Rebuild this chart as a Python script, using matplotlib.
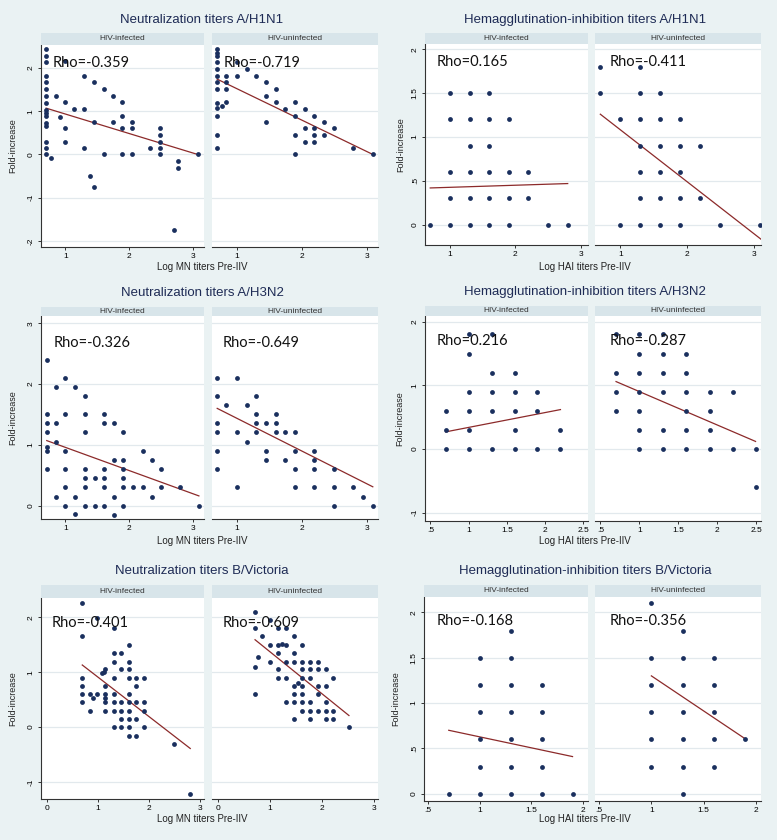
import numpy as np
import matplotlib.pyplot as plt
from matplotlib.patches import Rectangle

# === Data (x = log titer pre-IIV, y = fold-increase) ===
mn_h1n1_inf = [(0.70, 2.43), (0.70, 2.27), (0.70, 2.13), (0.70, 1.81), (0.70, 1.67), (0.70, 1.51),
               (0.70, 1.34), (0.70, 1.19), (0.70, 1.03), (0.70, 0.95), (0.70, 0.88), (0.70, 0.72),
               (0.70, 0.66), (0.70, 0.29), (0.70, 0.14), (0.70, 0.00), (0.78, -0.09), (0.85, 1.36),
               (0.91, 0.86), (1.00, 2.15), (1.00, 1.21), (1.00, 0.60), (1.00, 0.29), (1.14, 1.05),
               (1.30, 1.82), (1.30, 1.05), (1.30, 0.14), (1.39, -0.50), (1.45, 1.67), (1.45, 0.76),
               (1.45, -0.75), (1.60, 1.51), (1.60, 0.00), (1.74, 1.36), (1.74, 0.76), (1.89, 1.21),
               (1.89, 0.90), (1.89, 0.60), (1.89, 0.00), (2.04, 0.76), (2.04, 0.60), (2.04, 0.00),
               (2.33, 0.14), (2.48, 0.60), (2.48, 0.45), (2.48, 0.29), (2.48, 0.14), (2.48, 0.00),
               (2.77, -0.16), (2.77, -0.31), (2.70, -1.74), (3.07, 0.00)]
mn_h1n1_uninf = [(0.70, 2.44), (0.70, 2.35), (0.70, 2.27), (0.70, 2.13), (0.70, 1.98), (0.70, 1.82),
                 (0.70, 1.67), (0.70, 1.51), (0.70, 1.20), (0.70, 1.07), (0.70, 0.90), (0.70, 0.45),
                 (0.70, 0.14), (0.78, 1.12), (0.84, 1.82), (0.84, 1.67), (0.84, 1.51), (0.84, 1.21),
                 (1.00, 1.82), (1.00, 2.13), (1.15, 1.98), (1.30, 1.82), (1.45, 1.67), (1.45, 1.36),
                 (1.45, 0.76), (1.60, 1.51), (1.60, 1.21), (1.74, 1.05), (1.89, 1.21), (1.89, 0.90),
                 (1.89, 0.45), (1.89, 0.00), (2.05, 1.05), (2.05, 0.60), (2.05, 0.29), (2.19, 0.90),
                 (2.19, 0.60), (2.19, 0.45), (2.19, 0.29), (2.34, 0.76), (2.34, 0.45), (2.49, 0.60),
                 (2.79, 0.14), (3.09, 0.00)]

hai_h1n1_inf = [(0.7, 0.0), (1.0, 1.5), (1.3, 1.5), (1.6, 1.5), (1.0, 1.2), (1.3, 1.2), (1.6, 1.2),
                (1.9, 1.2), (1.3, 0.9), (1.6, 0.9), (1.0, 0.6), (1.3, 0.6), (1.6, 0.6), (1.9, 0.6),
                (2.2, 0.6), (1.0, 0.3), (1.3, 0.3), (1.6, 0.3), (1.9, 0.3), (2.2, 0.3), (1.0, 0.0),
                (1.3, 0.0), (1.6, 0.0), (1.9, 0.0), (2.5, 0.0), (2.8, 0.0)]
hai_h1n1_uninf = [(0.7, 1.8), (0.7, 1.5), (1.3, 1.8), (1.3, 1.5), (1.6, 1.5), (1.0, 1.2), (1.3, 1.2),
                  (1.6, 1.2), (1.9, 1.2), (1.3, 0.9), (1.6, 0.9), (1.9, 0.9), (2.2, 0.9), (1.3, 0.6),
                  (1.6, 0.6), (1.9, 0.6), (1.3, 0.3), (1.6, 0.3), (1.9, 0.3), (2.2, 0.3), (1.0, 0.0),
                  (1.3, 0.0), (1.6, 0.0), (1.9, 0.0), (2.5, 0.0), (3.1, 0.0)]

mn_h3n2_inf = [(0.71, 2.40), (0.71, 1.51), (0.71, 1.36), (0.71, 1.21), (0.71, 0.97), (0.71, 0.90),
               (0.71, 0.60), (0.86, 1.96), (0.86, 1.36), (0.86, 1.05), (0.86, 0.15), (1.00, 2.10),
               (1.00, 1.51), (1.00, 0.90), (1.00, 0.60), (1.00, 0.30), (1.00, 0.00), (1.15, 1.96),
               (1.15, 0.15), (1.15, -0.14), (1.31, 1.81), (1.31, 1.51), (1.31, 1.21), (1.31, 0.60),
               (1.31, 0.45), (1.31, 0.30), (1.31, 0.00), (1.46, 0.45), (1.46, 0.00), (1.61, 1.51),
               (1.61, 1.36), (1.61, 0.60), (1.61, 0.45), (1.61, 0.30), (1.61, 0.00), (1.76, 1.36),
               (1.76, 0.75), (1.76, 0.15), (1.76, -0.15), (1.90, 1.21), (1.90, 0.75), (1.90, 0.60),
               (1.90, 0.45), (1.90, 0.30), (1.90, 0.00), (2.06, 0.30), (2.21, 0.30), (2.21, 0.90),
               (2.35, 0.75), (2.35, 0.15), (2.50, 0.60), (2.50, 0.30), (2.80, 0.30), (3.09, 0.00)]
mn_h3n2_uninf = [(0.70, 2.10), (0.70, 1.81), (0.70, 1.36), (0.70, 1.21), (0.70, 0.90), (0.70, 0.60),
                 (0.84, 1.66), (1.00, 2.10), (1.00, 1.21), (1.00, 0.30), (1.15, 1.66), (1.15, 1.05),
                 (1.30, 1.81), (1.30, 1.51), (1.30, 1.36), (1.30, 1.21), (1.45, 1.36), (1.45, 0.90),
                 (1.45, 0.75), (1.60, 1.51), (1.60, 1.36), (1.60, 1.21), (1.74, 1.21), (1.74, 0.75),
                 (1.89, 1.21), (1.89, 0.90), (1.89, 0.60), (1.89, 0.30), (2.19, 0.90), (2.19, 0.75),
                 (2.19, 0.60), (2.19, 0.30), (2.49, 0.60), (2.49, 0.30), (2.49, 0.00), (2.79, 0.30),
                 (2.94, 0.15), (3.09, 0.00)]

hai_h3n2_inf = [(0.7, 0.6), (0.7, 0.3), (0.7, 0.0), (1.0, 1.8), (1.0, 1.5), (1.0, 0.9), (1.0, 0.6),
                (1.0, 0.3), (1.0, 0.0), (1.3, 1.8), (1.3, 1.2), (1.3, 0.9), (1.3, 0.6), (1.3, 0.0),
                (1.6, 1.2), (1.6, 0.9), (1.6, 0.6), (1.6, 0.3), (1.6, 0.0), (1.9, 0.9), (1.9, 0.6),
                (1.9, 0.0), (2.2, 0.3), (2.2, 0.0)]
hai_h3n2_uninf = [(0.7, 1.8), (0.7, 1.2), (0.7, 0.9), (0.7, 0.6), (1.0, 1.8), (1.0, 1.5), (1.0, 1.2),
                  (1.0, 0.9), (1.0, 0.6), (1.0, 0.3), (1.0, 0.0), (1.3, 1.8), (1.3, 1.5), (1.3, 1.2),
                  (1.3, 0.9), (1.3, 0.3), (1.3, 0.0), (1.6, 1.5), (1.6, 1.2), (1.6, 0.9), (1.6, 0.6),
                  (1.6, 0.3), (1.6, 0.0), (1.9, 0.9), (1.9, 0.6), (1.9, 0.3), (1.9, 0.0), (2.2, 0.9),
                  (2.2, 0.0), (2.5, 0.0), (2.5, -0.6)]

mn_bvic_inf = [(0.69, 2.25), (0.69, 1.65), (0.69, 0.90), (0.69, 0.75), (0.69, 0.60), (0.69, 0.45),
               (0.84, 0.60), (0.84, 0.30), (0.90, 0.53), (0.98, 0.60), (0.98, 1.98), (1.08, 0.98),
               (1.11, 1.01), (1.14, 1.05), (1.14, 0.75), (1.14, 0.60), (1.14, 0.53), (1.14, 0.45),
               (1.14, 0.30), (1.31, 1.81), (1.31, 1.35), (1.31, 1.19), (1.31, 0.89), (1.31, 0.60),
               (1.31, 0.45), (1.31, 0.30), (1.31, 0.00), (1.45, 1.35), (1.45, 1.05), (1.45, 0.45),
               (1.45, 0.30), (1.45, 0.15), (1.45, 0.00), (1.60, 1.50), (1.60, 1.19), (1.60, 1.05),
               (1.60, 0.89), (1.60, 0.60), (1.60, 0.45), (1.60, 0.30), (1.60, 0.15), (1.60, 0.00),
               (1.60, -0.16), (1.75, 0.89), (1.75, 0.75), (1.75, 0.45), (1.75, 0.15), (1.75, -0.16),
               (1.90, 0.89), (1.90, 0.45), (1.90, 0.30), (1.90, 0.00), (2.50, -0.30), (2.81, -1.21)]
mn_bvic_uninf = [(0.71, 2.10), (0.71, 1.81), (0.71, 1.10), (0.71, 0.60), (0.77, 1.27), (0.85, 1.65),
                 (1.00, 1.95), (1.00, 1.50), (1.00, 1.19), (1.16, 1.81), (1.16, 1.50), (1.16, 1.35),
                 (1.16, 1.05), (1.16, 0.89), (1.22, 1.52), (1.31, 1.81), (1.31, 1.50), (1.31, 1.19),
                 (1.31, 0.89), (1.31, 0.45), (1.46, 1.65), (1.46, 1.35), (1.46, 1.19), (1.46, 0.75),
                 (1.46, 0.60), (1.46, 0.45), (1.46, 0.15), (1.54, 0.81), (1.61, 1.50), (1.61, 1.19),
                 (1.61, 1.05), (1.61, 0.89), (1.61, 0.75), (1.61, 0.60), (1.61, 0.45), (1.61, 0.30),
                 (1.76, 1.19), (1.76, 1.05), (1.76, 0.89), (1.76, 0.45), (1.76, 0.30), (1.76, 0.15),
                 (1.92, 1.19), (1.92, 1.05), (1.92, 0.75), (1.92, 0.60), (1.92, 0.30), (2.07, 1.05),
                 (2.07, 0.75), (2.07, 0.45), (2.07, 0.30), (2.07, 0.15), (2.21, 0.89), (2.21, 0.30),
                 (2.21, 0.15), (2.52, 0.00)]

hai_bvic_inf = [(0.7, 0.0), (1.0, 1.5), (1.0, 1.2), (1.0, 0.9), (1.0, 0.6), (1.0, 0.3), (1.0, 0.0),
                (1.3, 1.8), (1.3, 1.5), (1.3, 1.2), (1.3, 0.9), (1.3, 0.6), (1.3, 0.3), (1.3, 0.0),
                (1.6, 1.2), (1.6, 0.9), (1.6, 0.6), (1.6, 0.3), (1.6, 0.0), (1.9, 0.0)]
hai_bvic_uninf = [(1.0, 2.1), (1.0, 1.5), (1.0, 1.2), (1.0, 0.9), (1.0, 0.6), (1.0, 0.3), (1.3, 1.8),
                  (1.3, 1.5), (1.3, 1.2), (1.3, 0.9), (1.3, 0.6), (1.3, 0.3), (1.3, 0.0), (1.6, 1.5),
                  (1.6, 1.2), (1.6, 0.9), (1.6, 0.6), (1.6, 0.3), (1.9, 0.6)]

# fitted lines as drawn (x0, y0, x1, y1), infected / uninfected
fit_mn_h1n1 = [(0.70, 1.07, 3.07, 0.00), (0.70, 1.74, 3.09, 0.00)]
fit_hai_h1n1 = [(0.70, 0.42, 2.80, 0.47), (0.70, 1.26, 3.12, -0.17)]
fit_mn_h3n2 = [(0.71, 1.07, 3.09, 0.16), (0.70, 1.60, 3.09, 0.31)]
fit_hai_h3n2 = [(0.70, 0.27, 2.20, 0.62), (0.70, 1.06, 2.49, 0.12)]
fit_mn_bvic = [(0.69, 1.13, 2.81, -0.39), (0.71, 1.59, 2.52, 0.21)]
fit_hai_bvic = [(0.70, 0.70, 1.90, 0.41), (1.00, 1.30, 1.90, 0.605)]

rho_mn_h1n1 = ['Rho=-0.359', 'Rho=-0.719']
rho_hai_h1n1 = ['Rho=0.165', 'Rho=-0.411']
rho_mn_h3n2 = ['Rho=-0.326', 'Rho=-0.649']
rho_hai_h3n2 = ['Rho=0.216', 'Rho=-0.287']
rho_mn_bvic = ['Rho=-0.401', 'Rho=-0.609']
rho_hai_bvic = ['Rho=-0.168', 'Rho=-0.356']

titles = ['Neutralization titers A/H1N1', 'Hemagglutination-inhibition titers A/H1N1',
          'Neutralization titers A/H3N2', 'Hemagglutination-inhibition titers A/H3N2',
          'Neutralization titers B/Victoria', 'Hemagglutination-inhibition titers B/Victoria']
groups = ['HIV-infected', 'HIV-uninfected']
xlab_mn = 'Log MN titers Pre-IIV'
xlab_hai = 'Log HAI titers Pre-IIV'
ylab = 'Fold-increase'

# === Style ===
W, H = 777, 840
BG = '#eaf2f3'
STRIP = '#d8e5ea'
NAVY = '#1a2f5e'
RED = '#8c2a2a'
GRID = '#e2e9ed'
plt.rcParams['font.family'] = ['Liberation Sans', 'DejaVu Sans']

fig = plt.figure(figsize=(W / 100, H / 100), dpi=100, facecolor=BG)


def add_ax(box):
    x0, y0, x1, y1 = box
    return fig.add_axes([x0 / W, 1 - y1 / H, (x1 - x0) / W, (y1 - y0) / H])


# panel layout in pixels: two plot boxes, strip top, title y, title x, xlabel y, ylabel x
panels = [
    dict(data=(mn_h1n1_inf, mn_h1n1_uninf), fit=fit_mn_h1n1, rho=rho_mn_h1n1, title=titles[0],
         xlab=xlab_mn, boxes=[(41, 45, 204, 247), (212, 45, 378, 247)], strip=33, ty=20, tx=202,
         xly=267, ylx=13, xlim=(0.62, 3.17), ylim=(-2.14, 2.53), xt=[1, 2, 3], xtl=['1', '2', '3'],
         yt=[-2, -1, 0, 1, 2], ytl=['-2', '-1', '0', '1', '2'], rx=(0.07, 0.07), ry=0.91),
    dict(data=(hai_h1n1_inf, hai_h1n1_uninf), fit=fit_hai_h1n1, rho=rho_hai_h1n1, title=titles[1],
         xlab=xlab_hai, boxes=[(425, 44, 588, 245), (595, 44, 761, 245)], strip=33, ty=20, tx=585,
         xly=267, ylx=401, xlim=(0.62, 3.11), ylim=(-0.23, 2.06), xt=[1, 2, 3], xtl=['1', '2', '3'],
         yt=[0, 0.5, 1, 1.5, 2], ytl=['0', '.5', '1', '1.5', '2'], rx=(0.07, 0.09), ry=0.91),
    dict(data=(mn_h3n2_inf, mn_h3n2_uninf), fit=fit_mn_h3n2, rho=rho_mn_h3n2, title=titles[2],
         xlab=xlab_mn, boxes=[(41, 316, 204, 519), (212, 316, 378, 519)], strip=307, ty=293, tx=202,
         xly=541, ylx=13, xlim=(0.62, 3.17), ylim=(-0.22, 3.12), xt=[1, 2, 3], xtl=['1', '2', '3'],
         yt=[0, 1, 2, 3], ytl=['0', '1', '2', '3'], rx=(0.075, 0.066), ry=0.865),
    dict(data=(hai_h3n2_inf, hai_h3n2_uninf), fit=fit_hai_h3n2, rho=rho_hai_h3n2, title=titles[3],
         xlab=xlab_hai, boxes=[(425, 316, 588, 521), (595, 316, 761, 521)], strip=306, ty=292, tx=585,
         xly=541, ylx=400, xlim=(0.43, 2.56), ylim=(-1.13, 2.09), xt=[0.5, 1, 1.5, 2, 2.5],
         xtl=['.5', '1', '1.5', '2', '2.5'], yt=[-1, 0, 1, 2], ytl=['-1', '0', '1', '2'],
         rx=(0.07, 0.086), ry=0.88),
    dict(data=(mn_bvic_inf, mn_bvic_uninf), fit=fit_mn_bvic, rho=rho_mn_bvic, title=titles[4],
         xlab=xlab_mn, boxes=[(41, 598, 204, 799), (212, 598, 378, 799)], strip=585, ty=571, tx=202,
         xly=819, ylx=13, xlim=(-0.12, 3.08), ylim=(-1.31, 2.35), xt=[0, 1, 2, 3],
         xtl=['0', '1', '2', '3'], yt=[-1, 0, 1, 2], ytl=['-1', '0', '1', '2'],
         rx=(0.063, 0.066), ry=0.875),
    dict(data=(hai_bvic_inf, hai_bvic_uninf), fit=fit_hai_bvic, rho=rho_hai_bvic, title=titles[5],
         xlab=xlab_hai, boxes=[(424, 597, 588, 801), (595, 597, 761, 801)], strip=585, ty=571, tx=585,
         xly=819, ylx=396, xlim=(0.46, 2.05), ylim=(-0.08, 2.17), xt=[0.5, 1, 1.5, 2],
         xtl=['.5', '1', '1.5', '2'], yt=[0, 0.5, 1, 1.5, 2], ytl=['0', '.5', '1', '1.5', '2'],
         rx=(0.075, 0.09), ry=0.88),
]

for p in panels:
    for k, box in enumerate(p['boxes']):
        # grey-blue strip with group name
        x0, y0, x1, y1 = box
        fig.add_artist(Rectangle((x0 / W, 1 - y0 / H), (x1 - x0) / W, (y0 - p['strip']) / H,
                                 transform=fig.transFigure, facecolor=STRIP, edgecolor='none'))
        fig.text((x0 + x1) / 2 / W, 1 - (y0 + p['strip']) / 2 / H, groups[k], ha='center',
                 va='center', fontsize=6, color='#333333')

        ax = add_ax(box)
        ax.set_facecolor('white')
        pts = np.array(p['data'][k])
        ax.scatter(pts[:, 0], pts[:, 1], s=12, marker='o', color=NAVY, linewidths=0, zorder=3)
        fx0, fy0, fx1, fy1 = p['fit'][k]
        ax.plot([fx0, fx1], [fy0, fy1], color=RED, lw=0.9, zorder=2)
        ax.set_xlim(p['xlim'])
        ax.set_ylim(p['ylim'])
        ax.set_xticks(p['xt'])
        ax.set_xticklabels(p['xtl'], fontsize=6)
        ax.set_yticks(p['yt'])
        ax.set_yticklabels(p['ytl'], fontsize=6, rotation=90, va='center')
        ax.grid(axis='y', color=GRID, lw=0.9)
        ax.set_axisbelow(True)
        ax.tick_params(length=2.5, width=0.7, color='#333333', pad=2)
        for s in ['top', 'right']:
            ax.spines[s].set_visible(False)
        for s in ['left', 'bottom']:
            ax.spines[s].set_color('#333333')
            ax.spines[s].set_linewidth(0.8)
        if k == 1:
            ax.spines['left'].set_visible(False)
            ax.tick_params(left=False, labelleft=False)
        ax.text(p['rx'][k], p['ry'], p['rho'][k], transform=ax.transAxes, fontsize=10.5,
                family='Lato', va='center', ha='left', color='#111111', zorder=4)

    fig.text(p['tx'] / W, 1 - p['ty'] / H, p['title'], ha='center', va='center', fontsize=9.5,
             color='#1e2b55')
    fig.text(p['tx'] / W, 1 - p['xly'] / H, p['xlab'], ha='center', va='center', fontsize=7,
             color='#222222')
    yc = (p['boxes'][0][1] + p['boxes'][0][3]) / 2
    fig.text(p['ylx'] / W, 1 - yc / H, ylab, ha='center', va='center', rotation=90, fontsize=6.5,
             color='#222222')

fig.savefig('out.png', dpi=100, facecolor=BG)
